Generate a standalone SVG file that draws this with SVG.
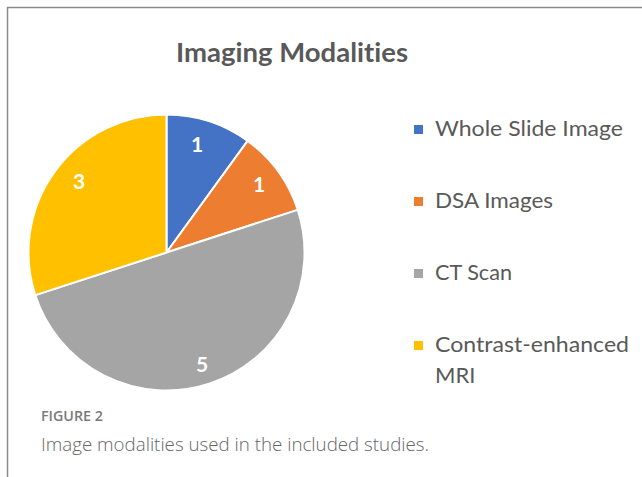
<svg xmlns="http://www.w3.org/2000/svg" width="642" height="477" viewBox="0 0 642 477">
  <style>
    text { font-variant-ligatures: none; }
    .title { font-family: Lato, "Open Sans", "Liberation Sans", sans-serif; font-weight: 700; font-size: 27px; fill: #595959; }
    .val { font-family: Lato, "Open Sans", "Liberation Sans", sans-serif; font-weight: 700; font-size: 21px; fill: #ffffff; text-anchor: middle; }
    .leg { font-family: Lato, "Open Sans", "Liberation Sans", sans-serif; font-size: 22px; fill: #595959; }
    .slice { stroke: #ffffff; stroke-width: 2; stroke-linejoin: round; }
    .fig { font-family: "Open Sans", Lato, "Liberation Sans", sans-serif; font-weight: 600; font-size: 13.5px; fill: #7a7a7a; }
    .cap { font-family: "Open Sans", Lato, "Liberation Sans", sans-serif; font-weight: 300; font-size: 17.5px; fill: #666666; }
  </style>

  <rect width="642" height="477" fill="#ffffff"/>
  <!-- panel frame -->
  <path d="M7.5,477 V7.5 H642" fill="none" stroke="#8a8a8a" stroke-width="1.5"/>

  <text class="title" x="292" y="62" text-anchor="middle" textLength="232" lengthAdjust="spacingAndGlyphs">Imaging Modalities</text>

  <!-- pie, centre (166.5,252.5), r 138, clockwise from 12 o'clock -->
  <g id="slices">
    <g id="slice-wsi">
      <path class="slice" fill="#4472C4" d="M166.5,252.5 L166.5,114.5 A138,138 0 0,1 247.61,140.86 Z"/>
      <text class="val" x="197" y="152">1</text>
    </g>
    <g id="slice-dsa">
      <path class="slice" fill="#ED7D31" d="M166.5,252.5 L247.61,140.86 A138,138 0 0,1 297.75,209.86 Z"/>
      <text class="val" x="259" y="192">1</text>
    </g>
    <g id="slice-ct">
      <path class="slice" fill="#A5A5A5" d="M166.5,252.5 L297.75,209.86 A138,138 0 1,1 35.25,295.14 Z"/>
      <text class="val" x="202" y="372">5</text>
    </g>
    <g id="slice-mri">
      <path class="slice" fill="#FFC000" d="M166.5,252.5 L35.25,295.14 A138,138 0 0,1 166.5,114.5 Z"/>
      <text class="val" x="79" y="189">3</text>
    </g>
  </g>

  <!-- legend -->
  <g id="legend">
    <g id="legend-wsi">
      <rect x="414" y="125" width="9" height="9" fill="#4472C4"/>
      <text class="leg" x="435" y="136" textLength="188" lengthAdjust="spacingAndGlyphs">Whole Slide Image</text>
    </g>
    <g id="legend-dsa">
      <rect x="414" y="197" width="9" height="9" fill="#ED7D31"/>
      <text class="leg" x="435" y="208" textLength="118" lengthAdjust="spacingAndGlyphs">DSA Images</text>
    </g>
    <g id="legend-ct">
      <rect x="414" y="269" width="9" height="9" fill="#A5A5A5"/>
      <text class="leg" x="435" y="280" textLength="77" lengthAdjust="spacingAndGlyphs">CT Scan</text>
    </g>
    <g id="legend-mri">
      <rect x="414" y="341" width="9" height="9" fill="#FFC000"/>
      <text class="leg" x="435" y="352" textLength="194" lengthAdjust="spacingAndGlyphs">Contrast-enhanced</text>
      <text class="leg" x="435" y="383">MRI</text>
    </g>
  </g>

  <!-- caption -->
  <text class="fig" x="41" y="421" textLength="62" lengthAdjust="spacingAndGlyphs">FIGURE 2</text>
  <text class="cap" x="41" y="451" textLength="388" lengthAdjust="spacingAndGlyphs">Image modalities used in the included studies.</text>
</svg>
